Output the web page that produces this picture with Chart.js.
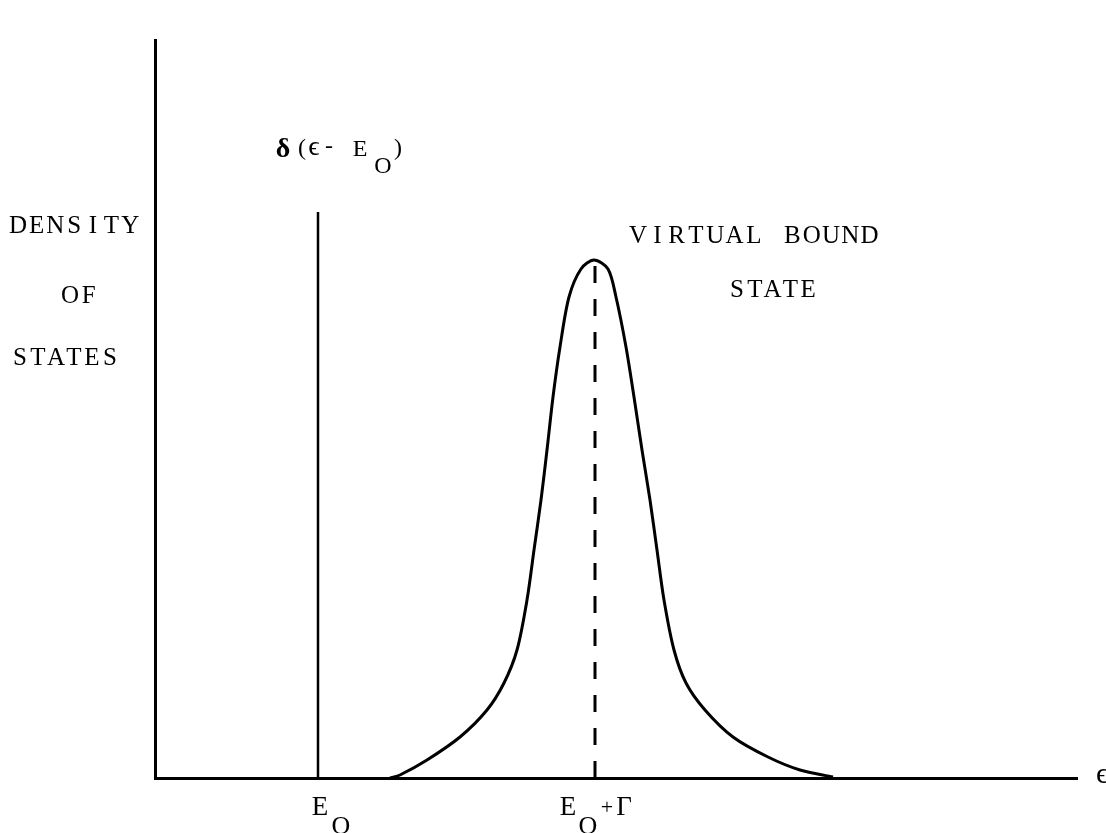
<!DOCTYPE html>
<html>
<head>
<meta charset="utf-8">
<script src="https://cdn.jsdelivr.net/npm/chart.js@4.4.1/dist/chart.umd.min.js"></script>
<style>
  html, body { margin: 0; padding: 0; background: #fff; }
  canvas { display: block; }
</style>
</head>
<body>
<canvas id="chart" width="1106" height="833"></canvas>
<script>
// virtual bound state curve (energy, density) in arbitrary units
const curveX = [23.5, 24.5, 27.2, 30.5, 33.2, 34.9, 36.2, 37.2, 37.9, 38.6, 39.2, 39.8, 40.5, 41.4, 42.6, 43.9, 45.3, 46.1, 47.1, 47.9, 48.7, 49.5, 50.2, 50.9, 51.9, 53.1, 55.0, 57.8, 61.3, 64.5, 67.8];
const curveY = [0, 0.3, 1.8, 4.1, 6.8, 9.5, 12.8, 17.8, 22.8, 27.8, 32.8, 38.1, 43.1, 48.1, 50.9, 51.8, 50.9, 48.1, 43.1, 38.1, 32.8, 27.8, 22.8, 17.8, 12.8, 9.5, 6.8, 4.1, 2.1, 0.8, 0.1];

// delta function at E0 and the resonance centre
const deltaX = 16.3;
const deltaHeight = 56.6;
const peakX = 44.0;
const peakHeight = 51.6;

const xMax = 92.2;
const yMax = 73.8;

const yTitleLines = ["DENSITY", "OF", "STATES"];
const curveLabelLines = ["VIRTUAL BOUND", "STATE"];

const TYPE = '"Liberation Serif", "DejaVu Serif", serif';

// typewriter style: every character centred in a fixed-pitch cell
function typeLine(ctx, str, firstCenter, y, size, pitch) {
  ctx.font = size + "px " + TYPE;
  ctx.textAlign = "center";
  [...str].forEach((ch, i) => ctx.fillText(ch, firstCenter + i * pitch, y));
}

function glyph(ctx, ch, cx, y, size, bold) {
  ctx.font = (bold ? "bold " : "") + size + "px " + TYPE;
  ctx.textAlign = "center";
  ctx.fillText(ch, cx, y);
}

const labelsPlugin = {
  id: "labels",
  afterDraw(chart) {
    const ctx = chart.ctx;
    ctx.save();
    ctx.fillStyle = "#000";
    ctx.textBaseline = "alphabetic";

    // y-axis title, three lines
    typeLine(ctx, yTitleLines[0], 18, 233, 25, 18.7);
    typeLine(ctx, yTitleLines[1], 70, 303, 25, 18.7);
    typeLine(ctx, yTitleLines[2], 20, 365, 25, 18);

    // curve label
    typeLine(ctx, curveLabelLines[0], 638, 243, 25, 19.3);
    typeLine(ctx, curveLabelLines[1], 737, 297, 25, 17.8);

    // delta(eps - E0) label
    glyph(ctx, "δ", 283, 157, 28, true);
    glyph(ctx, "(", 302, 155, 24);
    glyph(ctx, "ϵ", 314, 155, 28);
    glyph(ctx, "-", 329, 153, 24);
    glyph(ctx, "E", 360, 156, 24);
    glyph(ctx, "O", 383, 173, 24);
    glyph(ctx, ")", 398, 155, 24);

    // x-axis marks
    glyph(ctx, "E", 320, 815, 27);
    glyph(ctx, "O", 341, 834, 26);
    glyph(ctx, "E", 568, 815, 27);
    glyph(ctx, "O", 588, 834, 26);
    glyph(ctx, "+", 607, 814, 22);
    glyph(ctx, "Γ", 624, 815, 27);

    // x-axis symbol
    glyph(ctx, "ϵ", 1102, 783, 30);
    ctx.restore();
  }
};

new Chart(document.getElementById("chart"), {
  type: "line",
  data: {
    datasets: [
      {
        data: curveX.map((x, i) => ({ x, y: curveY[i] })),
        borderColor: "#000",
        borderWidth: 3,
        pointRadius: 0,
        tension: 0.3,
        fill: false,
      },
      {
        data: [{ x: deltaX, y: 0 }, { x: deltaX, y: deltaHeight }],
        borderColor: "#000",
        borderWidth: 2.5,
        pointRadius: 0,
      },
      {
        data: [{ x: peakX, y: 0 }, { x: peakX, y: peakHeight }],
        borderColor: "#000",
        borderWidth: 3,
        borderDash: [17, 16],
        pointRadius: 0,
      },
    ],
  },
  options: {
    responsive: false,
    animation: false,
    layout: { padding: { left: 155, right: 29, top: 40, bottom: 55 } },
    plugins: { legend: { display: false }, tooltip: { enabled: false } },
    scales: {
      x: {
        type: "linear",
        min: 0,
        max: xMax,
        ticks: { display: false },
        grid: { display: false, drawTicks: false },
        border: { display: true, color: "#000", width: 3 },
      },
      y: {
        type: "linear",
        min: 0,
        max: yMax,
        ticks: { display: false },
        grid: { display: false, drawTicks: false },
        border: { display: true, color: "#000", width: 3 },
      },
    },
  },
  plugins: [labelsPlugin],
});
</script>
</body>
</html>
